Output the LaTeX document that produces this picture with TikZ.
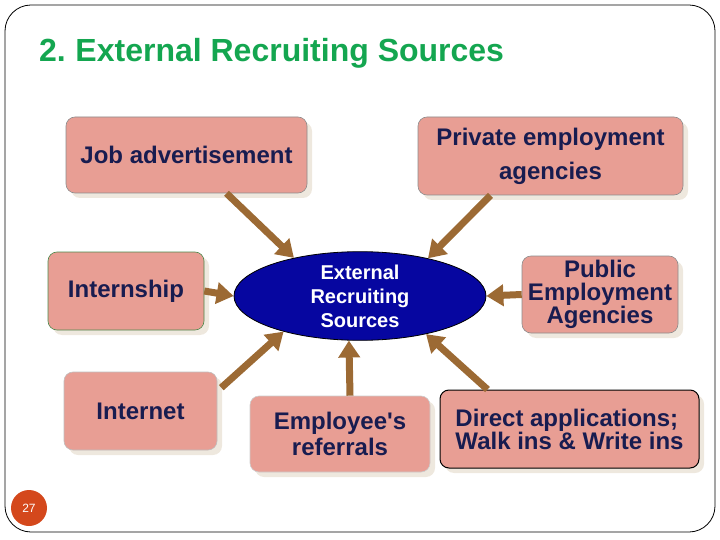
\documentclass[tikz,border=0pt]{standalone}
\usepackage{fontspec}
\setmainfont{Liberation Sans}
\usetikzlibrary{arrows.meta,shapes.geometric,shadows}
\definecolor{boxfill}{RGB}{232,158,148}
\definecolor{boxtext}{RGB}{24,28,80}
\definecolor{titlegreen}{RGB}{20,166,80}
\definecolor{arrowbrown}{RGB}{156,106,52}
\definecolor{shadowc}{RGB}{238,232,222}
\definecolor{ellblue}{RGB}{6,6,160}
\definecolor{pagered}{RGB}{212,72,28}
\begin{document}
\begin{tikzpicture}[x=1pt,y=-1pt,
  srcbox/.style={draw=black!45, line width=0.6pt, fill=boxfill, rounded corners=9pt,
    text=boxtext, font=\fontsize{24}{23}\selectfont\bfseries, align=center,
    inner sep=0pt, drop shadow={shadow xshift=5pt, shadow yshift=-5pt, fill=shadowc, opacity=1}},
  arr/.style={draw=arrowbrown, line width=7pt, -{Triangle[width=21pt,length=17pt]}}]
\useasboundingbox (0,0) rectangle (720,540);
% frame
\draw[line width=0.8pt, rounded corners=26pt] (5,5) rectangle (715,532);
% title
\node[anchor=west, text=titlegreen, font=\fontsize{32}{36}\selectfont\bfseries, inner sep=0pt] (title) at (39,53) {2.\hspace{0.3em}External Recruiting Sources};
% boxes
\node[srcbox, minimum width=241pt, minimum height=76pt] (job) at (186.5,155) {Job advertisement};
\node[srcbox, minimum width=265pt, minimum height=78pt, font=\fontsize{24}{34}\selectfont\bfseries] (priv) at (550.5,156) {Private employment\\agencies};
\node[srcbox, draw=black!40!green!40!gray, minimum width=156pt, minimum height=78pt] (intern) at (126,291) {Internship};
\node[srcbox, minimum width=156pt, minimum height=77pt] (pub) at (600,294.5) {Public\\Employment\\Agencies};
\node[srcbox, draw=black!25, minimum width=153pt, minimum height=78pt] (inet) at (140.5,411) {Internet};
\node[srcbox, draw=black!20, minimum width=180pt, minimum height=76pt, font=\fontsize{24}{26}\selectfont\bfseries] (emp) at (340,434) {Employee\textquotesingle s\\referrals};
\node[srcbox, draw=black, line width=1pt, minimum width=259pt, minimum height=78pt, align=left] (dir) at (569.5,429) {Direct applications;\\Walk ins \& Write ins};
% center ellipse
\node[ellipse, draw=black, line width=0.8pt, fill=ellblue, minimum width=252pt, minimum height=84pt, inner sep=0pt,
  text=white, font=\fontsize{20}{24}\selectfont\bfseries, align=center] (ell) at (360,296) {External\\Recruiting\\Sources};
% arrows
\draw[arr] ([xshift=40pt]job.south) -- (ell.150);
\draw[arr] ([xshift=-60pt]priv.south) -- (ell.29);
\draw[arr] (intern.east) -- (ell.180);
\draw[arr] (pub.west) -- (ell.0);
\draw[arr] ([xshift=4pt,yshift=-16pt]inet.north east) -- (ell.205);
\draw[arr] ([xshift=10pt]emp.north) -- (ell.256);
\draw[arr] ([xshift=-82pt]dir.north) -- (ell.330);
% page number
\node[circle, fill=pagered, minimum size=36pt, inner sep=0pt, text=white, font=\fontsize{12}{12}\selectfont] (page) at (29,508) {27};
\end{tikzpicture}
\end{document}
